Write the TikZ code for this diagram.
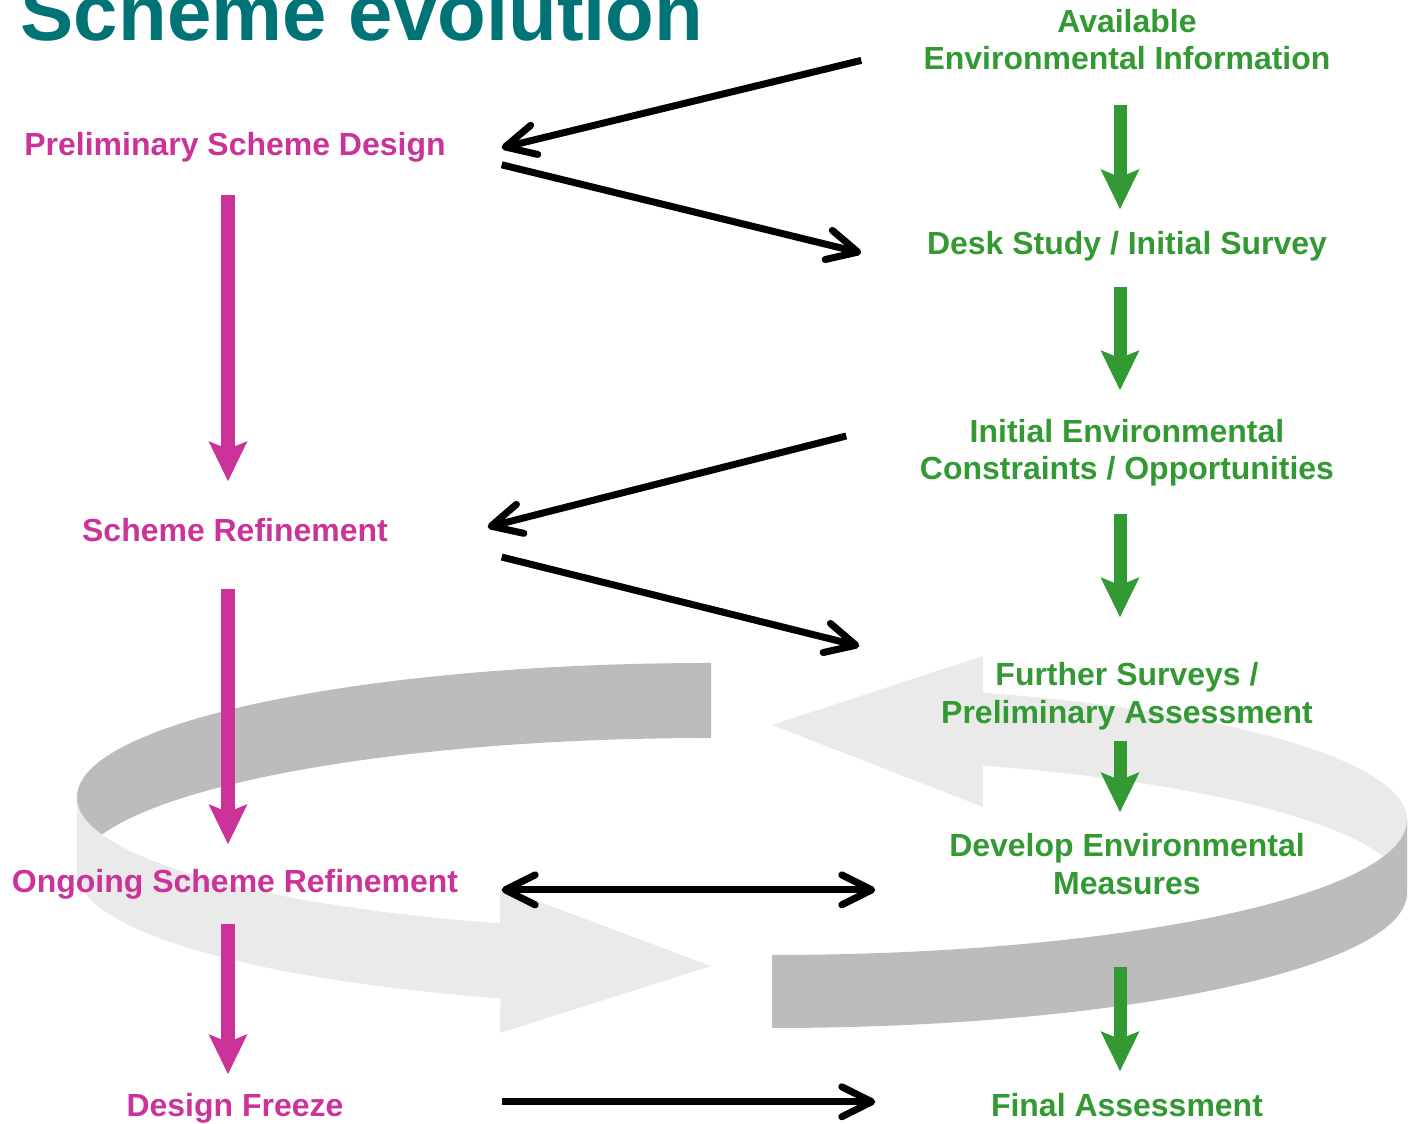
\documentclass[tikz,border=0pt]{standalone}
\usepackage{fontspec}
\setmainfont{Liberation Sans}
\usepackage{xcolor}
\usepackage{tikz}
\usetikzlibrary{arrows.meta}

\definecolor{titleteal}{RGB}{0,115,119}
\definecolor{schemepink}{RGB}{204,51,153}
\definecolor{envgreen}{RGB}{51,153,51}
\definecolor{ringdark}{RGB}{188,188,188}
\definecolor{ringlight}{RGB}{234,234,234}

\begin{document}
\begin{tikzpicture}[>={Straight Barb[length=0.3cm,width=0.3cm,round]}]
    \tikzstyle{scheme} = [inner sep=0pt, minimum width=5.32cm, align=center, text=schemepink, font=\fontsize{9.1}{10.7}\selectfont\bfseries]
    \tikzstyle{enviro} = [inner sep=0pt, minimum width=5.3cm, align=center, text=envgreen, font=\fontsize{9.1}{10.7}\selectfont\bfseries]
    \tikzstyle{arrow} = [line width=0.07cm, ->]
    \tikzstyle{pinkarrow} = [draw=schemepink, line width=0.13cm, -{Stealth[length=0.4cm, width=0.39cm, inset=0.08cm, line width=0pt]}]
    \tikzstyle{greenarrow} = [draw=envgreen, line width=0.13cm, -{Stealth[length=0.4cm, width=0.39cm, inset=0.08cm, line width=0pt]}]
    \useasboundingbox (0,0) rectangle (14.13,-11.24);

    % the grey cycle round the lower half
    \fill[ringdark] (7.11,-6.63) arc[start angle=90, end angle=180, x radius=6.34, y radius=1.34]
        -- (0.77,-8.72) arc[start angle=180, end angle=90, x radius=6.34, y radius=1.34] -- cycle;
    \fill[ringlight] (0.77,-7.97) -- (0.77,-8.72) arc[start angle=180, end angle=250.6, x radius=6.34, y radius=1.34]
        -- (5.00,-10.33) -- (7.11,-9.66) -- (5.00,-8.87) -- (5.00,-9.234)
        arc[start angle=250.6, end angle=180, x radius=6.34, y radius=1.34] -- cycle;
    \fill[ringlight] (7.72,-7.25) -- (9.83,-6.56) -- (9.83,-6.927)
        arc[start angle=70.6, end angle=0, x radius=6.35, y radius=1.35]
        -- (14.07,-8.93) arc[start angle=0, end angle=70.6, x radius=6.35, y radius=1.35]
        -- (9.83,-8.07) -- cycle;
    \fill[ringdark] (7.72,-9.55) arc[start angle=270, end angle=360, x radius=6.35, y radius=1.35]
        -- (14.07,-8.93) arc[start angle=0, end angle=-90, x radius=6.35, y radius=1.35] -- cycle;

    \node[anchor=base west, inner sep=0pt, text=titleteal, font=\fontsize{22.7}{27}\selectfont\bfseries] (title) at (0.20,-0.41) {Scheme evolution};

    \node (avail) [enviro] at (11.27,-0.394) {Available\\Environmental Information};
    \node (prelim) [scheme, anchor=base] at (2.35,-1.56) {Preliminary Scheme Design};
    \node (desk) [enviro, anchor=base] at (11.27,-2.545) {Desk Study / Initial Survey};
    \node (initial) [enviro] at (11.27,-4.526) {Initial Environmental\\Constraints / Opportunities};
    \node (refine) [scheme, anchor=base] at (2.35,-5.415) {Scheme Refinement};
    \node (further) [enviro] at (11.27,-6.961) {Further Surveys /\\Preliminary Assessment};
    \node (develop) [enviro] at (11.27,-8.639) {Develop Environmental\\Measures};
    \node (ongoing) [scheme, anchor=base] at (2.35,-8.925) {Ongoing Scheme Refinement};
    \node (freeze) [scheme, anchor=base] at (2.35,-11.165) {Design Freeze};
    \node (final) [enviro, anchor=base] at (11.27,-11.165) {Final Assessment};

    \draw [pinkarrow, shorten <=0.32cm, shorten >=0.365cm] ([xshift=-0.07cm]prelim.south) -- ([xshift=-0.07cm]refine.north);
    \draw [pinkarrow, shorten <=0.465cm, shorten >=0.245cm] ([xshift=-0.07cm]refine.south) -- ([xshift=-0.07cm]ongoing.north);
    \draw [pinkarrow, shorten <=0.238cm, shorten >=0.185cm] ([xshift=-0.07cm]ongoing.south) -- ([xshift=-0.07cm]freeze.north);

    \draw [greenarrow, shorten <=0.343cm, shorten >=0.215cm] ([xshift=-0.07cm]avail.south) -- ([xshift=-0.07cm]desk.north);
    \draw [greenarrow, shorten <=0.248cm, shorten >=0.28cm] ([xshift=-0.07cm]desk.south) -- ([xshift=-0.07cm]initial.north);
    \draw [greenarrow, shorten <=0.268cm, shorten >=0.445cm] ([xshift=-0.07cm]initial.south) -- ([xshift=-0.07cm]further.north);
    \draw [greenarrow, shorten <=0.103cm, shorten >=0.205cm] ([xshift=-0.07cm]further.south) -- ([xshift=-0.07cm]develop.north);
    \draw [greenarrow, shorten <=0.718cm, shorten >=0.215cm] ([xshift=-0.07cm]develop.south) -- ([xshift=-0.07cm]final.north);

    \coordinate (both) at ([yshift=-0.056cm]ongoing.east);
    \coordinate (frozen) at ([yshift=0.065cm]freeze.east);

    \draw [arrow] ([yshift=-0.21cm]avail.west) -- (prelim.east);
    \draw [arrow] ([yshift=-0.17cm]prelim.east) -- ([yshift=-0.067cm]desk.west);
    \draw [arrow] ([xshift=-0.15cm,yshift=0.166cm]initial.west) -- ([xshift=-0.14cm,yshift=0.03cm]refine.east);
    \draw [arrow] ([yshift=-0.27cm]refine.east) -- ([xshift=-0.02cm,yshift=0.50cm]further.west);
    \draw [arrow, <->] (both) -- ([xshift=0.14cm]develop.west |- both);
    \draw [arrow] (frozen) -- ([xshift=0.14cm]final.west |- frozen);
\end{tikzpicture}
\end{document}
